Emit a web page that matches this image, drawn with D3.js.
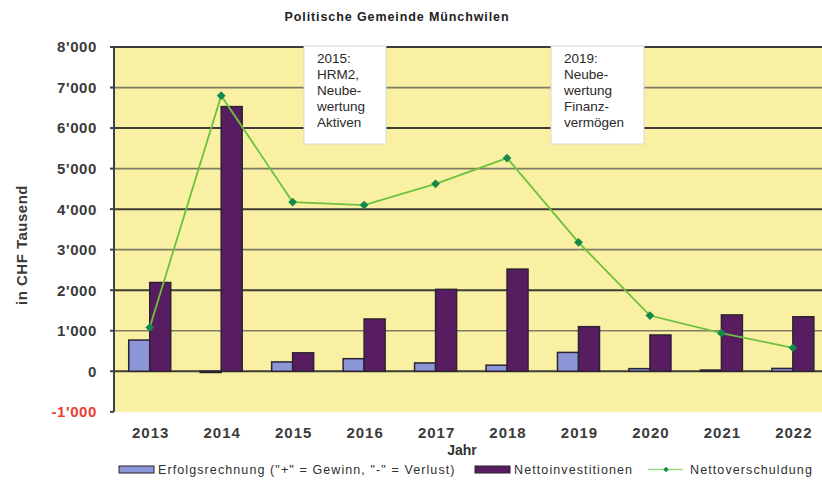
<!DOCTYPE html>
<html><head><meta charset="utf-8">
<script src="https://cdn.jsdelivr.net/npm/d3@7"></script>
<style>
html,body{margin:0;padding:0;background:#fff;}
svg{display:block;font-family:"Liberation Sans",Arial,sans-serif;}
</style></head>
<body><svg id="c" width="822" height="490"></svg>
<script>
const years = ["2013","2014","2015","2016","2017","2018","2019","2020","2021","2022"];
const erfolgsrechnung = [770, -30, 230, 310, 205, 150, 465, 65, 30, 70];
const nettoinvestitionen = [2190, 6530, 455, 1290, 2020, 2520, 1100, 895, 1390, 1345];
const nettoverschuldung = [1080, 6800, 4175, 4100, 4625, 5260, 3180, 1375, 940, 580];
const yTicks = [-1000,0,1000,2000,3000,4000,5000,6000,7000,8000];
const seriesNames = ["Erfolgsrechnung (\"+\" = Gewinn, \"-\" = Verlust)", "Nettoinvestitionen", "Nettoverschuldung"];
const notes = [
  {lines:["2015:","HRM2,","Neube-","wertung","Aktiven"]},
  {lines:["2019:","Neube-","wertung","Finanz-","vermögen"]}
];

const svg = d3.select("#c");
const L = 114, R = 828.6, T = 47, B = 411.8;
const x = d3.scaleBand().domain(years).range([L, R]);
const bw = x.bandwidth();
const xs = d3.scaleBand().domain([0,1]).range([bw/2 - 21, bw/2 + 21]);
const y = d3.scaleLinear().domain([-1000, 8000]).range([B, T]);

// plot background
svg.append("rect").attr("x", L).attr("y", T).attr("width", R - L).attr("height", B - T).attr("fill", "#f9f0a3");

// gridlines
svg.append("g").selectAll("line").data(yTicks.filter(d => d > -1000)).join("line")
  .attr("x1", L).attr("x2", R)
  .attr("y1", d => y(d)).attr("y2", d => y(d))
  .attr("stroke", d => (d / 1000) % 2 === 0 ? "#3d3d35" : "#7d7a66")
  .attr("stroke-width", d => (d / 1000) % 2 === 0 ? 2 : 1.7);

// note boxes (cover gridlines)
const noteG = svg.append("g");
notes.forEach((n, i) => {
  const bx = i === 0 ? 304 : 551, bwid = i === 0 ? 82 : 93;
  noteG.append("rect").attr("x", bx).attr("y", 46).attr("width", bwid).attr("height", 98)
    .attr("fill", "#fff").attr("stroke", "#d8d8d8").attr("stroke-width", 1);
  noteG.append("text").attr("x", bx + 13).attr("y", 63)
    .attr("font-size", 13.5).attr("fill", "#2a2a2a")
    .selectAll("tspan").data(n.lines).join("tspan")
    .attr("x", bx + 13).attr("dy", (d, j) => j === 0 ? 0 : 16).text(d => d);
});

// bars
const bars = svg.append("g");
const seriesVals = [erfolgsrechnung, nettoinvestitionen];
const fills = ["#8d96d6", "#581d60"];
seriesVals.forEach((vals, s) => {
  bars.selectAll(null).data(vals).join("rect")
    .attr("x", (d, i) => x(years[i]) + xs(s))
    .attr("width", xs.bandwidth())
    .attr("y", d => Math.min(y(d), y(0)))
    .attr("height", d => Math.max(1, Math.abs(y(d) - y(0))))
    .attr("fill", fills[s]).attr("stroke", "#2b2233").attr("stroke-width", 1.5);
});

// line
const line = d3.line().x((d, i) => x(years[i]) + bw/2).y(d => y(d));
svg.append("path").datum(nettoverschuldung).attr("d", line)
  .attr("fill", "none").attr("stroke", "#6cc23e").attr("stroke-width", 1.8);
const sym = d3.symbol().type(d3.symbolSquare).size(38);
svg.append("g").selectAll("path").data(nettoverschuldung).join("path")
  .attr("d", sym).attr("transform", (d, i) => `translate(${x(years[i]) + bw/2},${y(d)}) rotate(45)`)
  .attr("fill", "#13894a");

// y axis
svg.append("line").attr("x1", L).attr("x2", L).attr("y1", T).attr("y2", B).attr("stroke", "#3a3f4a").attr("stroke-width", 2);
svg.append("g").selectAll("line").data(yTicks).join("line")
  .attr("x1", L - 4).attr("x2", L).attr("y1", d => y(d)).attr("y2", d => y(d))
  .attr("stroke", "#3a3f4a").attr("stroke-width", 2);
const fmt = d => d3.format(",")(d).replace(/,/g, "'").replace("−", "-");
svg.append("g").selectAll("text").data(yTicks).join("text")
  .attr("x", 97).attr("y", d => y(d)).attr("dy", "0.36em")
  .attr("text-anchor", "end").attr("font-size", 15).attr("font-weight", "bold")
  .attr("letter-spacing", 0.6)
  .attr("fill", d => d < 0 ? "#e8402f" : "#3b3b3b").text(fmt);

// x labels
svg.append("g").selectAll("text").data(years).join("text")
  .attr("x", d => x(d) + bw/2 + 1).attr("y", 438)
  .attr("text-anchor", "middle").attr("font-size", 15).attr("font-weight", "bold")
  .attr("letter-spacing", 1).attr("fill", "#3b3b3b").text(d => d);

// titles
svg.append("text").attr("x", 397).attr("y", 21).attr("text-anchor", "middle")
  .attr("font-size", 12.5).attr("font-weight", "bold").attr("letter-spacing", 0.9)
  .attr("fill", "#222").text("Politische Gemeinde Münchwilen");
svg.append("text").attr("x", 462).attr("y", 455).attr("text-anchor", "middle")
  .attr("font-size", 14).attr("font-weight", "bold").attr("fill", "#333").text("Jahr");
svg.append("text").attr("transform", "translate(27,245) rotate(-90)").attr("text-anchor", "middle")
  .attr("font-size", 15).attr("font-weight", "bold").attr("letter-spacing", 0.5)
  .attr("fill", "#3b3b3b").text("in CHF Tausend");

// legend
const lg = svg.append("g").attr("font-size", 12.5).attr("fill", "#2e2e2e").attr("letter-spacing", 1.1);
lg.append("rect").attr("x", 119).attr("y", 466).attr("width", 35).attr("height", 7).attr("fill", fills[0]).attr("stroke", "#2b2233").attr("stroke-width", 1);
lg.append("text").attr("x", 158).attr("y", 474).text(seriesNames[0]);
lg.append("rect").attr("x", 475).attr("y", 466).attr("width", 35).attr("height", 7).attr("fill", fills[1]).attr("stroke", "#2b2233").attr("stroke-width", 1);
lg.append("text").attr("x", 514).attr("y", 474).text(seriesNames[1]);
lg.append("line").attr("x1", 648).attr("x2", 683).attr("y1", 469.5).attr("y2", 469.5).attr("stroke", "#9ed98a").attr("stroke-width", 1.5);
lg.append("path").attr("d", d3.symbol().type(d3.symbolSquare).size(14)()).attr("transform", "translate(666,469.5) rotate(45)").attr("fill", "#13894a");
lg.append("text").attr("x", 690).attr("y", 474).text(seriesNames[2]);
</script></body></html>
